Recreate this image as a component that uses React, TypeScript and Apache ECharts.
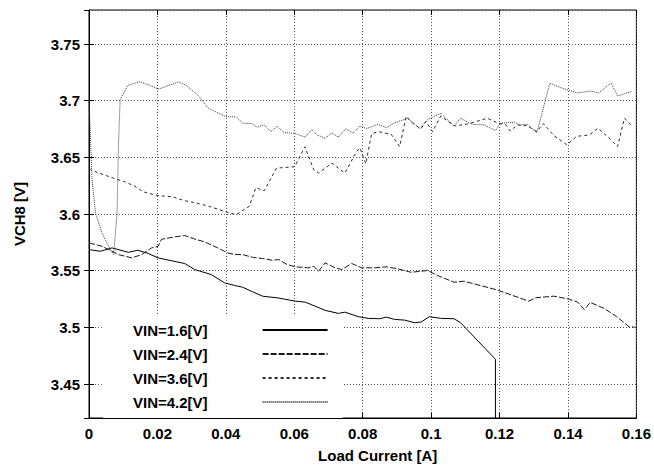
import React, { useEffect, useRef } from "react";
import * as echarts from "echarts";

const seriesNames = ["VIN=1.6[V]", "VIN=2.4[V]", "VIN=3.6[V]", "VIN=4.2[V]"];

const xMin = 0;
const xMax = 0.16;
const xInterval = 0.02;
const yMin = 3.42;
const yMax = 3.78;
const yStep = 0.05;

// [load current A, VCH8 V]
const vin16: number[][] = [
  [0, 3.5686], [0.0033, 3.5671], [0.0067, 3.5701], [0.0115, 3.5662], [0.0142, 3.568],
  [0.0169, 3.5657], [0.0202, 3.5613], [0.0248, 3.5583], [0.028, 3.5563], [0.0309, 3.551],
  [0.0357, 3.5466], [0.0396, 3.5393], [0.0425, 3.537], [0.0449, 3.5354], [0.0478, 3.5314],
  [0.0507, 3.5275], [0.0555, 3.5258], [0.0603, 3.5231], [0.0632, 3.5222], [0.0661, 3.5187],
  [0.069, 3.515], [0.0729, 3.5123], [0.0748, 3.5134], [0.0787, 3.5094], [0.0816, 3.5079],
  [0.085, 3.5076], [0.0869, 3.509], [0.0893, 3.507], [0.0922, 3.5064], [0.0951, 3.5041],
  [0.097, 3.5046], [0.0995, 3.5094], [0.1028, 3.5079], [0.1067, 3.5076], [0.1086, 3.5041],
  [0.1188, 3.4718], [0.1188, 3.40],
];

const vin24: number[][] = [
  [0, 3.5745], [0.0038, 3.5715], [0.0086, 3.5642], [0.0125, 3.5613], [0.0154, 3.5642],
  [0.0183, 3.5701], [0.0202, 3.5715], [0.0212, 3.5777], [0.0251, 3.5798], [0.028, 3.581],
  [0.0309, 3.5779], [0.0338, 3.5754], [0.0376, 3.5701], [0.0405, 3.5657], [0.0425, 3.5642],
  [0.0449, 3.5642], [0.0478, 3.5618], [0.0507, 3.5607], [0.0536, 3.5592], [0.0555, 3.5598],
  [0.0579, 3.5554], [0.0603, 3.5534], [0.0642, 3.5525], [0.0657, 3.5539], [0.0671, 3.5495],
  [0.069, 3.5569], [0.0719, 3.5525], [0.0739, 3.551], [0.0768, 3.5563], [0.0797, 3.5525],
  [0.0835, 3.5525], [0.0869, 3.5534], [0.0903, 3.5516], [0.0941, 3.5486], [0.099, 3.5501],
  [0.1019, 3.5457], [0.1067, 3.5398], [0.1096, 3.5407], [0.1193, 3.533], [0.1285, 3.5231],
  [0.1306, 3.5261], [0.1359, 3.5275], [0.1401, 3.525], [0.1428, 3.5224], [0.1448, 3.5156],
  [0.1465, 3.522], [0.1506, 3.5167], [0.1541, 3.5097], [0.1579, 3.5004], [0.1596, 3.5002],
];

const vin36: number[][] = [
  [0, 3.6395], [0.0038, 3.6352], [0.008, 3.6307], [0.0103, 3.6287], [0.0135, 3.6243],
  [0.0158, 3.6197], [0.0178, 3.6179], [0.0204, 3.6161], [0.0243, 3.6153], [0.0277, 3.6119],
  [0.0316, 3.6095], [0.0352, 3.6067], [0.0381, 3.6038], [0.0403, 3.6016], [0.043, 3.5994],
  [0.0468, 3.6067], [0.0488, 3.6232], [0.0512, 3.6205], [0.0548, 3.6405], [0.0601, 3.6417],
  [0.0631, 3.6593], [0.0657, 3.639], [0.0671, 3.6361], [0.071, 3.6449], [0.0748, 3.6361],
  [0.0782, 3.6551], [0.0792, 3.6584], [0.0809, 3.6443], [0.0826, 3.6707], [0.0845, 3.6727],
  [0.0883, 3.6703], [0.0908, 3.6595], [0.0927, 3.6861], [0.0946, 3.6801], [0.097, 3.6751],
  [0.0985, 3.6817], [0.1004, 3.6727], [0.1028, 3.6865], [0.1068, 3.6777], [0.1106, 3.6793],
  [0.1164, 3.6845], [0.1198, 3.6799], [0.1217, 3.6791], [0.1231, 3.6733], [0.1252, 3.6786],
  [0.128, 3.6779], [0.1309, 3.6727], [0.1328, 3.6798], [0.1358, 3.6694], [0.1397, 3.661],
  [0.1425, 3.6685], [0.1463, 3.6698], [0.1488, 3.6757], [0.1526, 3.6654], [0.1545, 3.6595],
  [0.1565, 3.6845], [0.1584, 3.6786],
];

const vin42: number[][] = [
  [0, 3.7006], [0.0009, 3.6302], [0.0019, 3.6009], [0.0038, 3.5833], [0.0057, 3.5715],
  [0.0072, 3.5642], [0.0082, 3.6009], [0.0086, 3.6595], [0.0091, 3.7006], [0.0113, 3.7134],
  [0.0149, 3.7167], [0.0204, 3.7103], [0.0262, 3.7165], [0.0283, 3.7138], [0.0318, 3.705],
  [0.0349, 3.6933], [0.0399, 3.6859], [0.043, 3.6857], [0.0449, 3.6801], [0.0475, 3.6799],
  [0.0492, 3.6766], [0.0512, 3.6786], [0.0531, 3.6727], [0.055, 3.6773], [0.057, 3.6718],
  [0.0599, 3.6713], [0.0632, 3.6678], [0.0651, 3.6745], [0.0666, 3.6698], [0.069, 3.6669],
  [0.071, 3.6716], [0.0729, 3.6678], [0.0751, 3.6753], [0.0772, 3.6713], [0.0792, 3.6777],
  [0.0811, 3.6753], [0.0845, 3.6791], [0.0869, 3.6762], [0.0893, 3.6804], [0.0932, 3.6845],
  [0.0966, 3.6757], [0.099, 3.6833], [0.1028, 3.6889], [0.1067, 3.6777], [0.1086, 3.6845],
  [0.112, 3.6791], [0.1155, 3.6786], [0.1188, 3.6736], [0.1202, 3.6801], [0.1243, 3.681],
  [0.126, 3.6786], [0.128, 3.6793], [0.1309, 3.6718], [0.1347, 3.7153], [0.139, 3.7103],
  [0.1428, 3.7068], [0.1465, 3.7085], [0.149, 3.7068], [0.1526, 3.7156], [0.1545, 3.7041],
  [0.1584, 3.7079],
];

const seriesData = [vin16, vin24, vin36, vin42];
const lineColors = ["#000000", "#1a1a1a", "#2a2a2a", "#3c3c3c"];
const lineDashes: any[] = ["solid", [6, 2], [3, 3], [1, 1]];

const FONT = "'Liberation Sans', Arial, Helvetica, sans-serif";

export default function App() {
  const ref = useRef<HTMLDivElement>(null);
  useEffect(() => {
    if (!ref.current) return;
    const chart = echarts.init(ref.current, null, { renderer: "svg" });
    const gridLine = { show: true, lineStyle: { color: "#555", type: [1, 2], width: 1 } };
    const labelStyle = { fontFamily: FONT, fontWeight: "bold" as const, fontSize: 15, color: "#000" };
    chart.setOption({
      animation: false,
      backgroundColor: "#fff",
      grid: {
        left: 89, right: 14, top: 10, bottom: 54,
        show: true, borderColor: "#000", borderWidth: 1, backgroundColor: "transparent",
      },
      xAxis: [
        {
          type: "value", min: xMin, max: xMax, interval: xInterval, position: "bottom",
          name: "Load Current [A]", nameLocation: "middle", nameGap: 30,
          nameTextStyle: { ...labelStyle, padding: [0, 0, 0, 30] },
          axisLine: { show: true, lineStyle: { color: "#000" } },
          axisTick: { show: true, inside: true, length: 5, lineStyle: { color: "#000" } },
          axisLabel: { ...labelStyle, margin: 8 },
          splitLine: gridLine,
        },
        {
          type: "value", min: xMin, max: xMax, interval: xInterval, position: "top",
          axisLine: { show: false },
          axisTick: { show: true, inside: true, length: 5, lineStyle: { color: "#000" } },
          axisLabel: { show: false },
          splitLine: { show: false },
        },
      ],
      yAxis: [
        {
          type: "value", min: yMin, max: yMax, splitNumber: 7, minInterval: yStep, maxInterval: yStep,
          position: "left",
          name: "VCH8 [V]", nameLocation: "middle", nameGap: 62, nameRotate: 90,
          nameTextStyle: { ...labelStyle },
          axisLine: { show: true, lineStyle: { color: "#000" } },
          axisTick: { show: true, inside: true, length: 5, lineStyle: { color: "#000" } },
          axisLabel: { ...labelStyle, margin: 9, showMinLabel: false, showMaxLabel: false },
          splitLine: gridLine,
        },
        {
          type: "value", min: yMin, max: yMax, splitNumber: 7, minInterval: yStep, maxInterval: yStep,
          position: "right",
          axisLine: { show: false },
          axisTick: { show: true, inside: true, length: 5, lineStyle: { color: "#000" } },
          axisLabel: { show: false },
          splitLine: { show: false },
        },
      ],
      legend: {
        orient: "vertical", left: 103, top: 315, align: "right",
        padding: [7, 14, 8, 30], backgroundColor: "#fff",
        itemWidth: 65, itemHeight: 16, itemGap: 8,
        itemStyle: { opacity: 0 },
        textStyle: { ...labelStyle, lineHeight: 16, padding: [0, 50, 0, 0] },
        data: seriesNames,
      },
      series: seriesNames.map((name, i) => ({
        name, type: "line", xAxisIndex: 0, yAxisIndex: 0,
        data: seriesData[i], symbol: "none", showSymbol: false, clip: true,
        lineStyle: { color: lineColors[i], width: 1, type: lineDashes[i] },
        itemStyle: { color: lineColors[i] },
      })),
    });
    return () => chart.dispose();
  }, []);
  return (
    <div
      ref={ref}
      style={{ position: "fixed", left: 0, top: 0, width: 654, height: 472, background: "#fff" }}
    />
  );
}
